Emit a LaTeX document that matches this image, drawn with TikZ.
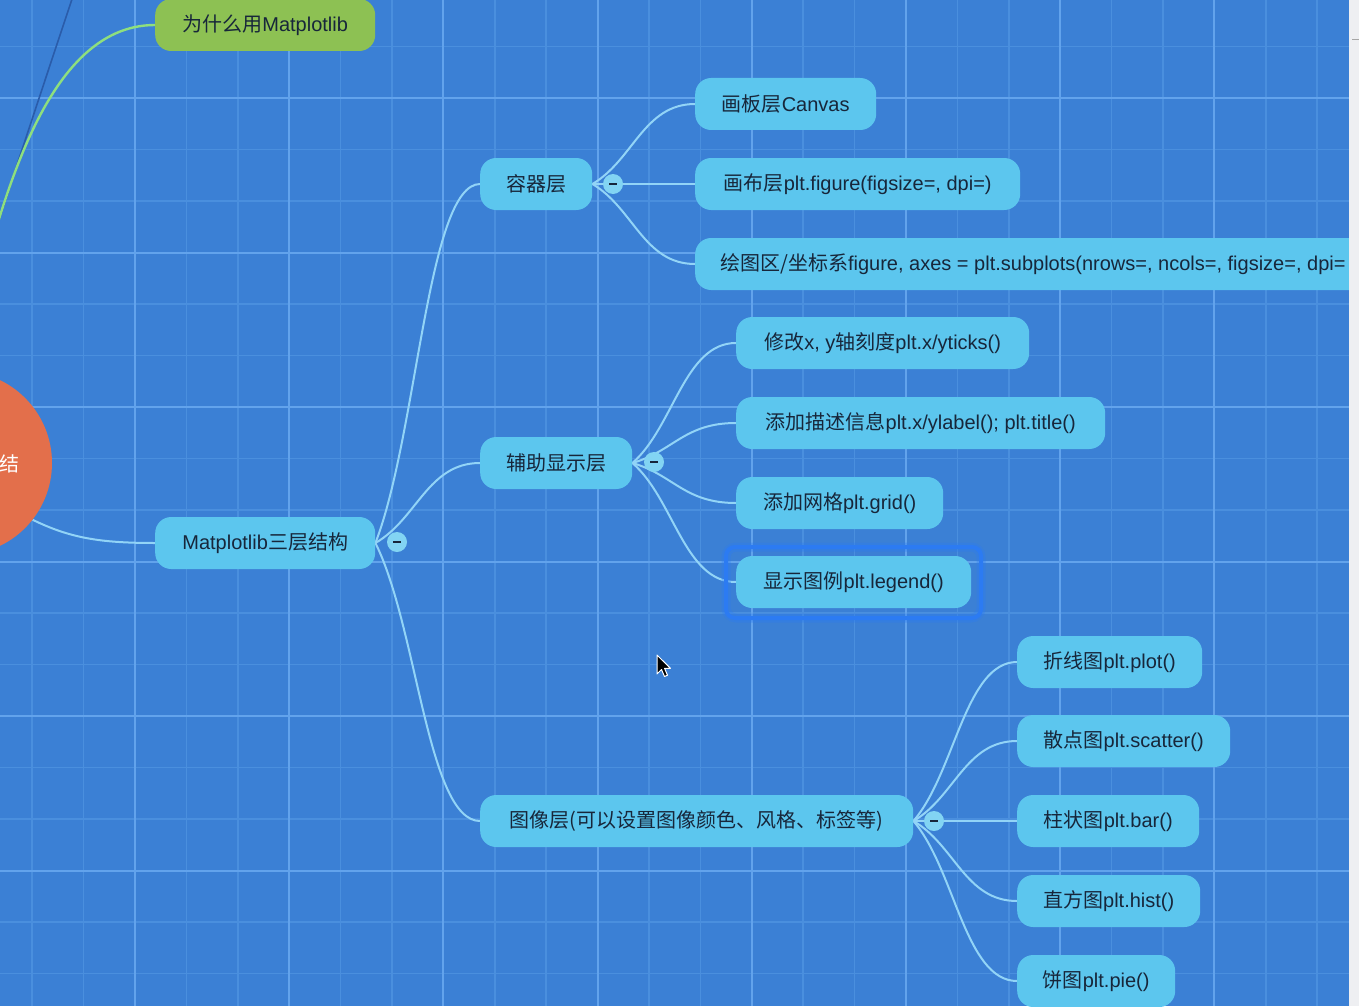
\documentclass[tikz,border=0pt]{standalone}
\usepackage{fontspec}
\setmainfont{Liberation Sans}
\newfontfamily\zhfont{Noto Sans CJK SC}
\newcommand\zh[1]{{\zhfont #1}}
\usetikzlibrary{calc}
\pgfdeclarelayer{gridlayer}
\pgfdeclarelayer{edgelayer}
\pgfsetlayers{gridlayer,edgelayer,main}
\definecolor{bgc}{HTML}{3B80D5}
\definecolor{gridminor}{HTML}{4A8FDE}
\definecolor{gridmajor}{HTML}{62A3EC}
\definecolor{nodefill}{HTML}{5CC6EE}
\definecolor{linec}{HTML}{92D4F7}
\definecolor{togglec}{HTML}{82D4F3}
\definecolor{ink}{HTML}{17263A}
\definecolor{greenfill}{HTML}{8DC153}
\definecolor{greenline}{HTML}{8EDF7E}
\definecolor{rootc}{HTML}{E36F4B}
\definecolor{darkline}{HTML}{2A5CAA}
\definecolor{hlc}{HTML}{2C7BF2}
\definecolor{scrollc}{HTML}{EEEFF2}
\begin{document}
\begin{tikzpicture}[x=1pt,y=-1pt,
  leaf/.style={fill=nodefill, rounded corners=16pt, minimum height=52pt, inner xsep=0pt, inner ysep=0pt, anchor=west, text=ink, font=\fontsize{20}{24}\selectfont},
  link/.style={draw=linec, line width=2pt},
  branch/.style={to path={let \p1=(\tikztostart), \p2=(\tikztotarget) in .. controls ({\x1+0.4*(\x2-\x1)},{\y1+0.3*(\y2-\y1)}) and ({\x1+0.5*(\x2-\x1)},\y2) .. (\tikztotarget)}},
  toggle/.style={circle, fill=togglec, minimum size=20pt, inner sep=0pt, text=ink}]
\useasboundingbox (0,0) rectangle (1359,1006);
\clip (0,0) rectangle (1359,1006);
\begin{pgfonlayer}{gridlayer}
\fill[bgc] (0,0) rectangle (1359,1006);
\foreach \i in {0,...,26} {\draw[gridminor, line width=1.5pt] ({32.2+51.4*\i},0) -- ({32.2+51.4*\i},1006);}
\foreach \j in {0,...,20} {\draw[gridminor, line width=1.5pt] (0,{-5+51.5*\j}) -- (1359,{-5+51.5*\j});}
\foreach \i in {2,5,...,26} {\draw[gridmajor, line width=2pt] ({32.2+51.4*\i},0) -- ({32.2+51.4*\i},1006);}
\foreach \j in {2,5,...,20} {\draw[gridmajor, line width=2pt] (0,{-5+51.5*\j}) -- (1359,{-5+51.5*\j});}
\end{pgfonlayer}

% root
\node[circle, fill=rootc, minimum size=184pt, inner sep=0pt] (root) at (-40,463) {};
\node[text=white, font=\fontsize{20}{24}\selectfont\zhfont] (rootlabel) at (9,464) {结};

% nodes
\node[leaf, fill=greenfill, minimum width=220pt] (g) at (155,25) {\zh{为什么用}Matplotlib};
\node[leaf, minimum width=220pt] (m) at (155,543) {Matplotlib\zh{三层结构}};
\node[leaf, minimum width=112pt] (c1) at (480,184) {\zh{容器层}};
\node[leaf, minimum width=152pt] (c2) at (480,463) {\zh{辅助显示层}};
\node[leaf, minimum width=433pt] (c3) at (480,821) {\zh{图像层(可以设置图像颜色、风格、标签等)}};
\node[leaf, minimum width=181pt] (a1) at (695,104) {\zh{画板层}Canvas};
\node[leaf, minimum width=325pt] (a2) at (695,184) {\zh{画布层}plt.figure(figsize=, dpi=)};
\node[leaf, inner xsep=25pt] (a3) at (695,264) {\zh{绘图区/坐标系}figure, axes = plt.subplots(nrows=, ncols=, figsize=, dpi=};
\node[leaf, minimum width=293pt] (b1) at (736,343) {\zh{修改}x, y\zh{轴刻度}plt.x/yticks()};
\node[leaf, minimum width=369pt] (b2) at (736,423) {\zh{添加描述信息}plt.x/ylabel(); plt.title()};
\node[leaf, minimum width=207pt] (b3) at (736,503) {\zh{添加网格}plt.grid()};
\node[leaf, minimum width=235pt] (b4) at (736,582) {\zh{显示图例}plt.legend()};
\node[leaf, minimum width=185pt] (d1) at (1017,662) {\zh{折线图}plt.plot()};
\node[leaf, minimum width=213pt] (d2) at (1017,741) {\zh{散点图}plt.scatter()};
\node[leaf, minimum width=182pt] (d3) at (1017,821) {\zh{柱状图}plt.bar()};
\node[leaf, minimum width=183pt] (d4) at (1017,901) {\zh{直方图}plt.hist()};
\node[leaf, minimum width=158pt] (d5) at (1017,981) {\zh{饼图}plt.pie()};

% connectors, under the nodes
\coordinate (up) at (95,-70);
\begin{pgfonlayer}{edgelayer}
\draw[darkline, line width=1.6pt] (root.96) .. controls (-5,230) and (45,80) .. (up);
\draw[greenline, line width=2.4pt] (root.90) .. controls (-5,220) and (40,25) .. (g.west);
\draw[link] (root.-38) .. controls (70,538) and (100,543) .. (m.west);
\foreach \t in {c1,c2,c3} {\draw[link] (m.east) to[branch] (\t.west);}
\foreach \t in {a1,a2,a3} {\draw[link] (c1.east) to[branch] (\t.west);}
\foreach \t in {b1,b2,b3,b4} {\draw[link] (c2.east) to[branch] (\t.west);}
\foreach \t in {d1,d2,d3,d4,d5} {\draw[link] (c3.east) to[branch] (\t.west);}
\end{pgfonlayer}

% toggles
\node[toggle] (t0) at (397,542) {\rule{8pt}{1.8pt}};
\node[toggle] (t1) at (613,184) {\rule{8pt}{1.8pt}};
\node[toggle] (t2) at (654,462) {\rule{8pt}{1.8pt}};
\node[toggle] (t3) at (934,821) {\rule{8pt}{1.8pt}};

% selection highlight
\draw[hlc, line width=9pt, opacity=0.35, rounded corners=10pt] (726,547) rectangle (981,618);
\draw[hlc, line width=4pt, rounded corners=9pt] (726,547) rectangle (981,618);

% mouse cursor
\draw[white, line width=1pt, fill=black, line join=round] (657,655) -- (657,674) -- (661.5,669.5) -- (664.5,676.5) -- (667.5,675.2) -- (664.6,668.4) -- (670.5,668.4) -- cycle;

% scrollbar strip
\fill[scrollc] (1349,0) rectangle (1359,1006);
\draw[gray!70, line width=1pt] (1352,40) -- (1359,40);
\end{tikzpicture}
\end{document}
